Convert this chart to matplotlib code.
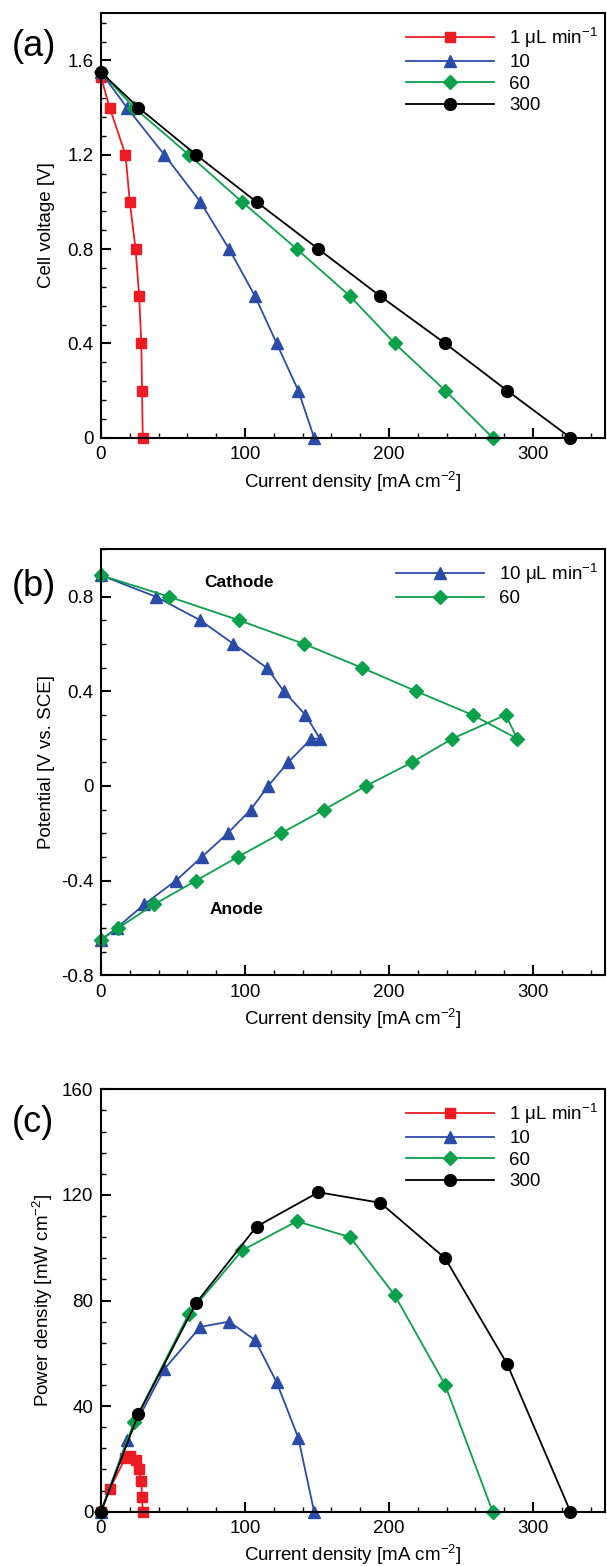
import matplotlib
matplotlib.use("Agg")
import matplotlib.pyplot as plt
from matplotlib.ticker import MultipleLocator

plt.rcParams['font.family'] = ['Liberation Sans', 'DejaVu Sans']
plt.rcParams['mathtext.fontset'] = 'custom'
plt.rcParams['mathtext.rm'] = 'Liberation Sans'
plt.rcParams['mathtext.it'] = 'Liberation Sans:italic'
plt.rcParams['mathtext.default'] = 'regular'

# ---------------- data ----------------
labels_abc = ['1 $\\mu$L min$^{-1}$', '10', '60', '300']
labels_b = ['10 $\\mu$L min$^{-1}$', '60']

# (a) polarization curves
V_a = [1.55, 1.4, 1.2, 1.0, 0.8, 0.6, 0.4, 0.2, 0.0]
V_a1 = [1.53, 1.4, 1.2, 1.0, 0.8, 0.6, 0.4, 0.2, 0.0]
I_1 = [0, 6, 17, 20, 24, 26.5, 28, 28.5, 29]
I_10 = [0, 18, 44, 69, 89, 107, 122, 137, 148]
I_60 = [0, 23, 61, 98, 136, 173, 204, 239, 272]
I_300 = [0, 26, 66, 108, 151, 194, 239, 282, 326]

# (b) electrode potentials
V_b10 = [0.89, 0.8, 0.7, 0.6, 0.5, 0.4, 0.3, 0.2, 0.2, 0.1, 0.0, -0.1, -0.2, -0.3, -0.4, -0.5, -0.6, -0.65]
I_b10 = [0, 38, 69, 92, 115, 127, 142, 152, 146, 130, 116, 104, 88, 70, 52, 30, 11, 0]
V_b60 = [0.89, 0.8, 0.7, 0.6, 0.5, 0.4, 0.3, 0.2, 0.3, 0.2, 0.1, 0.0, -0.1, -0.2, -0.3, -0.4, -0.5, -0.6, -0.65]
I_b60 = [0, 47, 96, 141, 181, 219, 258, 289, 281, 244, 216, 184, 155, 125, 95, 66, 37, 12, 0]

# (c) power density
P_1 = [0, 8.5, 20.5, 21, 19.5, 16, 11.5, 5.5, 0]
P_10 = [0, 27, 54, 70, 72, 65, 49, 28, 0]
P_60 = [0, 34, 75, 99, 110, 104, 82, 48, 0]
P_300 = [0, 37, 79, 108, 121, 117, 96, 56, 0]

# ---------------- styles ----------------
RED = '#ED1C24'
BLUE = '#2B4BA8'
GREEN = '#0BA14B'
BLACK = '#000000'
sty = {
    'r': dict(color=RED, marker='s', ms=7.5),
    'b': dict(color=BLUE, marker='^', ms=8.5),
    'g': dict(color=GREEN, marker='D', ms=6.8),
    'k': dict(color=BLACK, marker='o', ms=8.5),
}
LW = 1.3
FS = 13.5

W, H = 607, 1566
fig = plt.figure(figsize=(W / 100, H / 100), dpi=100)


def make_ax(top_px, bot_px):
    left, right = 101, 605
    return fig.add_axes([left / W, 1 - bot_px / H, (right - left) / W, (bot_px - top_px) / H])


def style_ax(ax, ylab, ymajor, yminor):
    ax.set_xlim(0, 350)
    ax.xaxis.set_major_locator(MultipleLocator(100))
    ax.xaxis.set_minor_locator(MultipleLocator(20))
    ax.yaxis.set_major_locator(MultipleLocator(ymajor))
    ax.yaxis.set_minor_locator(MultipleLocator(yminor))
    ax.tick_params(which='both', direction='in', top=False, right=False, labelsize=FS)
    ax.tick_params(which='major', length=7, width=1.5)
    ax.tick_params(which='minor', length=3.5, width=1.0)
    ax.tick_params(axis='y', pad=5.5)
    ax.tick_params(axis='x', pad=6)
    for s in ax.spines.values():
        s.set_linewidth(1.5)
    ax.set_xlabel('Current density [mA cm$^{-2}$]', fontsize=FS)
    ax.set_ylabel(ylab, fontsize=FS)
    ax.yaxis.set_label_coords(-0.092, 0.5)
    ax.xaxis.set_label_coords(0.5, -0.075)


def add_legend(ax):
    ax.legend(loc='upper right', bbox_to_anchor=(1.0, 0.987), frameon=False,
              fontsize=FS, handlelength=4.7, handletextpad=0.8, labelspacing=0.23,
              borderaxespad=0.17, borderpad=0.2, numpoints=1)


# (a)
ax1 = make_ax(13.3, 437.7)
ax1.plot(I_1, V_a1, lw=LW, label=labels_abc[0], **sty['r'])
ax1.plot(I_10, V_a, lw=LW, label=labels_abc[1], **sty['b'])
ax1.plot(I_60, V_a, lw=LW, label=labels_abc[2], **sty['g'])
ax1.plot(I_300, V_a, lw=LW, label=labels_abc[3], **sty['k'])
ax1.set_ylim(0, 1.8)
style_ax(ax1, 'Cell voltage [V]', 0.4, 0.08)
ax1.set_yticks([0, 0.4, 0.8, 1.2, 1.6])
ax1.set_yticklabels(['0', '0.4', '0.8', '1.2', '1.6'])
add_legend(ax1)

# (b)
ax2 = make_ax(549.3, 975.3)
ax2.plot(I_b10, V_b10, lw=LW, label=labels_b[0], **sty['b'])
ax2.plot(I_b60, V_b60, lw=LW, label=labels_b[1], **sty['g'])
ax2.set_ylim(-0.8, 1.0)
style_ax(ax2, 'Potential [V vs. SCE]', 0.4, 0.1)
ax2.set_yticks([-0.8, -0.4, 0, 0.4, 0.8])
ax2.set_yticklabels(['-0.8', '-0.4', '0', '0.4', '0.8'])
ax2.text(96, 0.86, 'Cathode', fontsize=12.5, fontweight='bold', ha='center', va='center')
ax2.text(94, -0.52, 'Anode', fontsize=12.5, fontweight='bold', ha='center', va='center')
add_legend(ax2)

# (c)
ax3 = make_ax(1089.3, 1511.7)
ax3.plot(I_1, P_1, lw=LW, label=labels_abc[0], **sty['r'])
ax3.plot(I_10, P_10, lw=LW, label=labels_abc[1], **sty['b'])
ax3.plot(I_60, P_60, lw=LW, label=labels_abc[2], **sty['g'])
ax3.plot(I_300, P_300, lw=LW, label=labels_abc[3], **sty['k'])
ax3.set_ylim(0, 160)
style_ax(ax3, 'Power density [mW cm$^{-2}$]', 40, 8)
add_legend(ax3)

for ax in (ax1, ax2, ax3):
    for ln in ax.get_lines():
        ln.set_clip_on(False)
    ax.set_xticks([0, 100, 200, 300])

# panel letters
for ypx, lab in [(47, '(a)'), (587, '(b)'), (1122, '(c)')]:
    fig.text(12 / W, 1 - ypx / H, lab, fontsize=26, ha='left', va='center')

fig.savefig('out.png', dpi=100)
